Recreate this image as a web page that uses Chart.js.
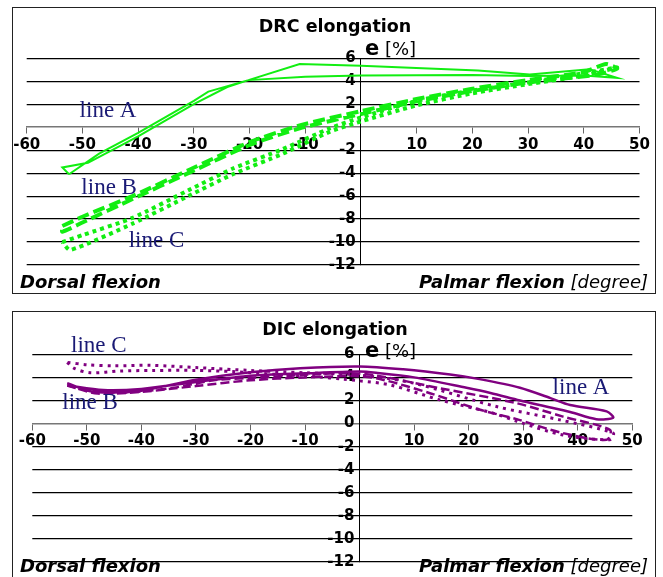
<!DOCTYPE html>
<html><head><meta charset="utf-8">
<script src="https://cdn.jsdelivr.net/npm/chart.js@4"></script>
<style>
html,body{margin:0;padding:0;background:#fff;}
body{width:663px;height:577px;position:relative;overflow:hidden;font-family:"DejaVu Sans",sans-serif;}
.frame{position:absolute;border:1.5px solid #222;box-sizing:border-box;}
.cw{position:absolute;left:0;width:663px;}
.t{position:absolute;white-space:nowrap;color:#000;}
.ttl{font-weight:bold;font-size:17.5px;line-height:18px;text-align:center;width:300px;left:185px;}
.e{font-size:18px;line-height:20px;}
.e b{font-size:21px;}
.df{font-weight:bold;font-style:italic;font-size:18px;line-height:18px;}
.pf{font-size:18px;line-height:18px;font-style:italic;right:15px;}
</style></head><body>
<div class="frame" style="left:12px;top:7px;width:644px;height:287px"></div>
<div class="frame" style="left:12px;top:311px;width:644px;height:280px"></div>
<div class="cw" style="top:0;height:300px"><canvas id="c1"></canvas></div>
<div class="cw" style="top:300px;height:277px"><canvas id="c2"></canvas></div>

<div class="t ttl" style="top:17px">DRC elongation</div>
<div class="t e" style="left:365px;top:38px"><b>e</b> [%]</div>
<div class="t df" style="left:20px;top:273px">Dorsal flexion</div>
<div class="t pf" style="top:273px"><b>Palmar flexion</b> [degree]</div>

<div class="t ttl" style="top:320px">DIC elongation</div>
<div class="t e" style="left:365px;top:340px"><b>e</b> [%]</div>
<div class="t df" style="left:20px;top:557px">Dorsal flexion</div>
<div class="t pf" style="top:557px"><b>Palmar flexion</b> [degree]</div>

<script>
// ---- tick values ----
const xTicks = [-60, -50, -40, -30, -20, -10, 0, 10, 20, 30, 40, 50];
const yTicks = [-12, -10, -8, -6, -4, -2, 0, 2, 4, 6];
const lineNames = ['line A', 'line B', 'line C'];

// ---- DRC elongation (top) ----
const drcAx = [-52.4, -47, -40, -30, -27.4, -20.2, -11, 0, 21, 30.3, 41, 46, 40, 30, 20, 0, -10, -20.2, -24, -30, -40, -49, -53.6, -52.4];
const drcAy = [-4.1, -2.3, -0.5, 2.3, 3.1, 4.1, 5.5, 5.35, 4.93, 4.6, 5.05, 4.3, 4.5, 4.45, 4.55, 4.5, 4.4, 4.1, 3.5, 2.0, -0.8, -3.1, -3.5, -4.1];
const drcBx = [-53.6, -50, -41, -31, -20, -11, 0, 10, 20, 30, 40, 44, 46, 42, 30, 20, 10, 0, -11, -20, -31, -41, -50, -53.6, -53.6];
const drcBy = [-8.6, -7.8, -6.0, -3.75, -1.3, 0.15, 1.4, 2.45, 3.35, 4.1, 4.8, 5.5, 5.1, 4.55, 3.9, 3.15, 2.25, 1.15, -0.1, -1.55, -4.0, -6.25, -8.3, -9.1, -8.6];
const drcCx = [-53.6, -50, -41, -31, -23, -14, -5.6, 0, 10, 20, 30, 40, 46, 40, 30, 20, 10, 0, -5.6, -14, -23, -31, -41, -52.2, -53.6];
const drcCy = [-10.0, -9.4, -7.9, -5.5, -3.6, -1.9, -0.1, 0.85, 2.3, 3.2, 3.9, 4.7, 5.2, 4.5, 3.75, 2.95, 1.9, 0.5, -0.4, -2.3, -4.1, -6.0, -8.4, -10.7, -10.0];
const drcLabelX = [-45.4, -45.2, -36.7];
const drcLabelY = [1.44, -5.28, -9.87];

// ---- DIC elongation (bottom) ----
const dicAx = [-53.6, -49.4, -45, -40, -30, -20, -10.9, 0, 8, 16.6, 22, 29.4, 35, 38.6, 45.3, 46.5, 43.4, 38.6, 34, 29.4, 24, 19.6, 10, 3, 0, -10, -20, -30, -40, -47, -53.6];
const dicAy = [3.5, 2.8, 2.7, 2.85, 3.8, 4.45, 4.8, 4.95, 4.7, 4.25, 3.85, 3.1, 2.2, 1.6, 1.05, 0.5, 0.38, 1.0, 1.5, 2.0, 2.65, 3.1, 4.0, 4.4, 4.5, 4.35, 4.15, 3.6, 3.0, 2.9, 3.3];
const dicBx = [-53.6, -50.6, -43.3, -34.1, -26.8, -20, -10.9, -3.6, 2.5, 14.7, 28.8, 37.3, 45.9, 45.3, 37.3, 28.8, 22.1, 12.9, 4.4, 0, -10, -20, -30, -40, -48, -53.6];
const dicBy = [3.3, 2.92, 2.68, 3.1, 3.75, 3.95, 4.2, 4.36, 4.2, 3.06, 1.76, 0.6, -0.55, -1.41, -0.83, 0.38, 1.19, 2.63, 3.78, 4.1, 4.0, 3.75, 3.25, 2.75, 2.6, 3.3];
const dicCx = [-53.6, -52.4, -49.4, -44, -38, -30, -23.2, -15, -8, -3, 0, 5.6, 14.7, 24.5, 28.8, 37.3, 45.9, 46.5, 36.7, 25.1, 9.9, 0, -10, -20, -30, -38.4, -45, -50, -53.6];
const dicCy = [5.3, 4.8, 4.4, 4.55, 4.6, 4.6, 4.5, 4.25, 4.05, 3.85, 3.7, 3.35, 2.05, 0.9, 0.2, -1.0, -1.4, -0.83, 0.32, 1.47, 3.5, 4.2, 4.4, 4.6, 4.85, 5.05, 5.0, 5.1, 5.3];
const dicLabelX = [40.6, -49.4, -47.8];
const dicLabelY = [3.09, 1.79, 6.73];

const pts = (xs, ys) => xs.map((x, i) => ({x, y: ys[i]}));

const lineLabelPlugin = {
  id: 'lineLabels',
  afterDatasetsDraw(chart, args, opts) {
    const {ctx} = chart;
    const sx = chart.scales.x, sy = chart.scales.y;
    ctx.save();
    ctx.font = '23px "Liberation Serif", "Times New Roman", serif';
    ctx.fillStyle = '#1a1a75';
    ctx.textAlign = 'center';
    ctx.textBaseline = 'middle';
    lineNames.forEach((t, i) => {
      ctx.fillText(t, sx.getPixelForValue(opts.xs[i]), sy.getPixelForValue(opts.ys[i]));
    });
    ctx.restore();
  }
};

function makeChart(id, color, sets, styles, pad, labX, labY, showYZero) {
  const datasets = sets.map((s, i) => Object.assign({
    data: pts(s[0], s[1]),
    showLine: true,
    pointRadius: 0,
    borderColor: color,
    backgroundColor: color,
    fill: false,
    borderCapStyle: 'butt'
  }, styles[i]));
  return new Chart(document.getElementById(id), {
    type: 'scatter',
    data: {datasets},
    plugins: [lineLabelPlugin],
    options: {
      responsive: true,
      maintainAspectRatio: false,
      animation: false,
      layout: {padding: pad},
      plugins: {legend: {display: false}, tooltip: {enabled: false}, title: {display: false},
        lineLabels: {xs: labX, ys: labY}},
      scales: {
        x: {
          type: 'linear', min: -60, max: 50,
          position: {y: 0},
          afterBuildTicks: s => { s.ticks = xTicks.map(v => ({value: v})); },
          afterFit: s => { s.height = 0; s.paddingLeft = 0; s.paddingRight = 0; s.paddingTop = 0; s.paddingBottom = 0; },
          grid: {drawOnChartArea: false, drawTicks: true, tickLength: 6, color: '#666', lineWidth: 1},
          border: {display: true, color: '#777', width: 1.5},
          ticks: {
            autoSkip: false, maxRotation: 0, padding: 3, color: '#000',
            font: {family: '"DejaVu Sans"', size: 15, weight: 'bold'},
            callback: v => v === 0 ? '' : String(v)
          }
        },
        y: {
          type: 'linear', min: -12, max: 6,
          position: {x: 0},
          afterBuildTicks: s => { s.ticks = yTicks.map(v => ({value: v})); },
          afterFit: s => { s.width = 0; s.paddingLeft = 0; s.paddingRight = 0; s.paddingTop = 0; s.paddingBottom = 0; },
          grid: {drawTicks: false, color: c => (c.tick && c.tick.value === 0) ? 'rgba(0,0,0,0)' : '#000', lineWidth: 1.2},
          border: {display: true, color: '#000', width: 1},
          ticks: {
            autoSkip: false, padding: 4, color: '#000',
            font: {family: '"DejaVu Sans"', size: 15, weight: 'bold'},
            callback: v => (v === 0 && !showYZero) ? '' : String(v) + ' '
          }
        }
      }
    }
  });
}

const green = '#12ee12';
const purple = '#800080';

makeChart('c1', green,
  [[drcAx, drcAy], [drcBx, drcBy], [drcCx, drcCy]],
  [{borderWidth: 2, tension: 0},
   {borderWidth: 4, borderDash: [12, 5], tension: 0.2},
   {borderWidth: 4, borderDash: [4, 4], tension: 0.2}],
  {left: 26.7, right: 23.5, top: 58.3, bottom: 35},
  drcLabelX, drcLabelY, false);

makeChart('c2', purple,
  [[dicAx, dicAy], [dicBx, dicBy], [dicCx, dicCy]],
  [{borderWidth: 2.5, tension: 0.3},
   {borderWidth: 2.5, borderDash: [9, 4], tension: 0.3},
   {borderWidth: 3, borderDash: [3, 5], tension: 0.3}],
  {left: 32.3, right: 30.7, top: 54.3, bottom: 15},
  dicLabelX, dicLabelY, true);
</script>
</body></html>
